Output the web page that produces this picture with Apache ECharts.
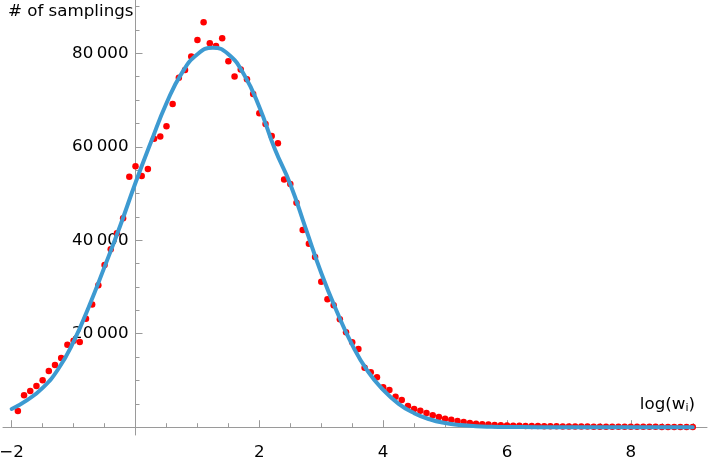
<!DOCTYPE html>
<html>
<head>
<meta charset="utf-8">
<script src="https://cdn.jsdelivr.net/npm/echarts@6/dist/echarts.min.js"></script>
<style>
html,body{margin:0;padding:0;background:#fff;}
#chart{width:710px;height:458px;}
</style>
</head>
<body>
<div id="chart"></div>
<script>
// Sampled histogram points (red dots)
const dotX = [-1.9,-1.8,-1.7,-1.6,-1.5,-1.4,-1.3,-1.2,-1.1,-1.0,
  -0.9,-0.8,-0.7,-0.6,-0.5,-0.4,-0.3,-0.2,-0.1,0.0,
  0.1,0.2,0.3,0.4,0.5,0.6,0.7,0.8,0.9,1.0,
  1.1,1.2,1.3,1.4,1.5,1.6,1.7,1.8,1.9,2.0,
  2.1,2.2,2.3,2.4,2.5,2.6,2.7,2.8,2.9,3.0,
  3.1,3.2,3.3,3.4,3.5,3.6,3.7,3.8,3.9,4.0,
  4.1,4.2,4.3,4.4,4.5,4.6,4.7,4.8,4.9,5.0,
  5.1,5.2,5.3,5.4,5.5,5.6,5.7,5.8,5.9,6.0,
  6.1,6.2,6.3,6.4,6.5,6.6,6.7,6.8,6.9,7.0,
  7.1,7.2,7.3,7.4,7.5,7.6,7.7,7.8,7.9,8.0,
  8.1,8.2,8.3,8.4,8.5,8.6,8.7,8.8,8.9,9.0];
const dotY = [3470,6830,7750,8820,10040,12030,13310,14810,17660,18510,
  18230,23220,26260,30370,34710,38070,41500,44700,53610,55830,
  53760,55260,61740,62170,64390,69160,74790,76440,79290,82860,
  86650,82150,81580,83220,78300,75010,76510,74450,71300,67170,
  64880,62320,60750,52970,52050,48040,42200,39270,36420,31140,
  27370,26090,23090,20310,18170,16730,12730,11740,10680,8540,
  7960,6530,5820,4540,3890,3530,3040,2550,2180,1820,
  1600,1330,1110,900,750,650,560,480,420,370,
  330,300,270,250,230,210,195,180,170,160,
  150,140,130,120,115,110,105,100,95,90,
  85,80,75,70,65,60,55,50,45,40];

// Fitted curve (blue line)
const curveX = [-2.0,-1.75,-1.5,-1.25,-1.0,-0.75,-0.5,-0.25,0.0,0.25,0.5,0.75,1.0,1.25,1.5,1.75,2.0,2.25,2.5,2.75,3.0,3.25,3.5,3.75,4.0,4.25,4.5,4.75,5.0,5.25,5.5,5.75,6.0,6.5,7.0,8.0,9.0];
const curveY = [3900,5800,8400,12400,18300,25900,34300,43000,52300,61000,69300,75800,79800,81200,79800,75500,68500,59500,52000,42500,33000,24800,17600,12000,8000,5000,3000,1700,900,450,200,90,40,10,0,0,0];

// Axes
const xTickLabels = [-2,2,4,6,8];
const xMinorTicks = [-1.5,-1,-0.5,0.5,1,1.5,2.5,3,3.5,4.5,5,5.5,6.5,7,7.5,8.5,9];
const yTickLabels = [20000,40000,60000,80000];
const yMinorTicks = [5000,10000,15000,25000,30000,35000,45000,50000,55000,65000,70000,75000,85000,90000];

const X_MIN = -2.14, X_MAX = 9.23, Y_MIN = -1670, Y_MAX = 91400;
const GRID = {left: 3, right: 3, top: 0, bottom: 23};

const FONT = 'DejaVu Sans';
const AXIS_COLOR = '#9a9a9a';

const chartEl = document.getElementById('chart');
const chart = echarts.init(chartEl, null, {renderer: 'canvas'});

// shift the vertical axis so it sits at x = 0 (axes cross at the origin)
const gridWidth = 710 - GRID.left - GRID.right;
const yAxisShift = -(0 - X_MIN) / (X_MAX - X_MIN) * gridWidth;

const fmtY = v => {
  const s = String(Math.round(v));
  return s.length > 3 ? s.slice(0, s.length - 3) + '\u2009' + s.slice(s.length - 3) : s;
};
const fmtX = v => (v < 0 ? '\u2212' + (-v) : String(v));

chart.setOption({
  animation: false,
  backgroundColor: '#fff',
  grid: Object.assign({containLabel: false, outerBoundsMode: 'none'}, GRID),
  xAxis: [
    {
      type: 'value', min: X_MIN, max: X_MAX, position: 'bottom',
      axisLine: {show: true, onZero: true, onZeroAxisIndex: 0, lineStyle: {color: AXIS_COLOR, width: 1}},
      axisTick: {show: true, inside: true, length: 7, customValues: xTickLabels, lineStyle: {color: AXIS_COLOR, width: 1}},
      axisLabel: {show: true, customValues: xTickLabels, formatter: fmtX, color: '#000', fontFamily: FONT, fontSize: 16.7, margin: 9},
      splitLine: {show: false},
      name: 'log(w{s|i})',
      nameLocation: 'end',
      nameGap: -12,
      nameTextStyle: {
        align: 'right', verticalAlign: 'bottom', color: '#000', fontFamily: FONT, fontSize: 16.7,
        padding: [0, 0, 14, 0],
        rich: {s: {fontSize: 11, fontFamily: FONT, color: '#000', verticalAlign: 'bottom', lineHeight: 12}}
      }
    },
    {
      type: 'value', min: X_MIN, max: X_MAX, position: 'bottom',
      axisLine: {show: false, onZero: true, onZeroAxisIndex: 0},
      axisTick: {show: true, inside: true, length: 4, customValues: xMinorTicks, lineStyle: {color: AXIS_COLOR, width: 1}},
      axisLabel: {show: false},
      splitLine: {show: false}
    }
  ],
  yAxis: [
    {
      type: 'value', min: Y_MIN, max: Y_MAX, position: 'left', offset: yAxisShift,
      axisLine: {show: true, onZero: false, lineStyle: {color: AXIS_COLOR, width: 1}},
      axisTick: {show: true, inside: true, length: 7, customValues: yTickLabels, lineStyle: {color: AXIS_COLOR, width: 1}},
      axisLabel: {show: true, customValues: yTickLabels, formatter: fmtY, color: '#000', fontFamily: FONT, fontSize: 16.7, margin: 7},
      splitLine: {show: false},
      name: '# of samplings',
      nameLocation: 'end',
      nameGap: -12,
      nameTextStyle: {align: 'right', verticalAlign: 'middle', color: '#000', fontFamily: FONT, fontSize: 16.7, padding: [0, 2, 0, 0]}
    },
    {
      type: 'value', min: Y_MIN, max: Y_MAX, position: 'left', offset: yAxisShift,
      axisLine: {show: false, onZero: false},
      axisTick: {show: true, inside: true, length: 4, customValues: yMinorTicks, lineStyle: {color: AXIS_COLOR, width: 1}},
      axisLabel: {show: false},
      splitLine: {show: false}
    }
  ],
  series: [
    {
      type: 'scatter',
      xAxisIndex: 0, yAxisIndex: 0,
      data: dotX.map((x, i) => [x, dotY[i]]),
      symbol: 'circle', symbolSize: 6.5,
      itemStyle: {color: '#ff0000', opacity: 1},
      z: 2
    },
    {
      type: 'line',
      xAxisIndex: 0, yAxisIndex: 0,
      data: curveX.map((x, i) => [x, curveY[i]]),
      smooth: true,
      showSymbol: false,
      lineStyle: {color: '#3d9ad1', width: 4, cap: 'round', join: 'round'},
      z: 3
    }
  ]
});
</script>
</body>
</html>
